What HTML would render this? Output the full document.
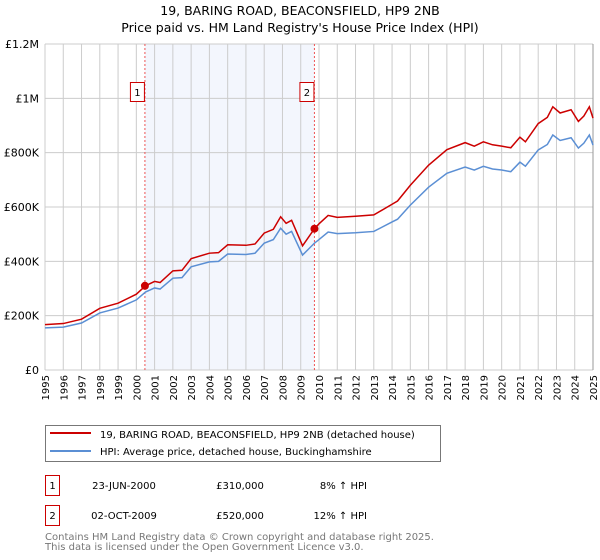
<!DOCTYPE html>
<html><head><meta charset="utf-8"><style>
body{margin:0;background:#fff;}
svg{display:block;font-family:"DejaVu Sans","Liberation Sans",sans-serif;}
</style></head><body>
<svg id="chart" width="600" height="560" xmlns="http://www.w3.org/2000/svg">
<text x="300" y="15" text-anchor="middle" font-size="12.5">19, BARING ROAD, BEACONSFIELD, HP9 2NB</text>
<text x="300" y="32" text-anchor="middle" font-size="12.5">Price paid vs. HM Land Registry's House Price Index (HPI)</text>
<g id="plot"></g>
<g>
<rect x="45.5" y="425.5" width="395" height="36" fill="#fff" stroke="#777"/>
<line x1="50" y1="433" x2="91" y2="433" stroke="#cc0000" stroke-width="2"/>
<text x="100" y="438" font-size="10">19, BARING ROAD, BEACONSFIELD, HP9 2NB (detached house)</text>
<line x1="50" y1="451" x2="91" y2="451" stroke="#5b8fd4" stroke-width="2"/>
<text x="100" y="455" font-size="10">HPI: Average price, detached house, Buckinghamshire</text>
</g>
<g font-size="10">
<rect x="45.5" y="475.5" width="14" height="20" fill="#fff" stroke="#cc0000"/>
<text x="52.5" y="489" text-anchor="middle">1</text>
<text x="124" y="489" text-anchor="middle">23-JUN-2000</text>
<text x="240" y="489" text-anchor="middle">£310,000</text>
<text x="367" y="489" text-anchor="end">8% ↑ HPI</text>
<rect x="45.5" y="505.5" width="14" height="20" fill="#fff" stroke="#cc0000"/>
<text x="52.5" y="519" text-anchor="middle">2</text>
<text x="124" y="519" text-anchor="middle">02-OCT-2009</text>
<text x="240" y="519" text-anchor="middle">£520,000</text>
<text x="367" y="519" text-anchor="end">12% ↑ HPI</text>
</g>
<text x="45" y="540" font-size="10" fill="#777">Contains HM Land Registry data © Crown copyright and database right 2025.</text>
<text x="45" y="550" font-size="10" fill="#777">This data is licensed under the Open Government Licence v3.0.</text>
</svg>
<script>
const years=[1995,1996,1997,1998,1999,2000,2000.5,2001,2001.3,2002,2002.5,2003,2004,2004.5,2005,2006,2006.5,2007,2007.5,2007.9,2008.2,2008.5,2009.1,2009.75,2010,2010.5,2011,2012,2013,2014,2014.3,2015,2016,2017,2018,2018.5,2019,2019.5,2020,2020.5,2021,2021.3,2022,2022.5,2022.8,2023.2,2023.8,2024.2,2024.5,2024.8,2025];
const hpiValues=[155,158,173,210,228,258,287,302,298,338,340,380,398,400,427,425,430,467,480,522,500,510,423,467,480,508,502,505,510,545,555,607,673,724,747,736,750,740,736,730,765,750,810,830,865,845,855,817,835,865,828];
const priceValues=[167,171,187,227,246,279,310,326,322,365,367,410,430,432,461,459,464,504,518,564,540,551,457,520,538,569,562,566,571,610,622,680,754,811,837,824,840,829,824,818,857,840,907,930,969,946,958,915,935,969,927];
const yTicks=[0,200,400,600,800,1000,1200];
const yTickLabels=["£0","£200K","£400K","£600K","£800K","£1M","£1.2M"];
const saleYears=[2000.47,2009.75];
const salePrices=[310,520];
const saleLabels=["1","2"];
const NS="http://www.w3.org/2000/svg";
const X0=45,X1=593,Y0=370,Y1=44;
const x=v=>X0+(v-1995)/30*(X1-X0);
const y=v=>Y0-v/1200*(Y0-Y1);
const g=document.getElementById('plot');
function mk(t,a,p){const e=document.createElementNS(NS,t);for(const k in a)e.setAttribute(k,a[k]);(p||g).appendChild(e);return e;}
const shade=mk('rect',{x:x(saleYears[0]),y:Y1,width:x(saleYears[1])-x(saleYears[0]),height:Y0-Y1,fill:'#f3f6fd'});


for(let yr=1995;yr<=2025;yr++){
  const l=mk('line',{x1:x(yr),x2:x(yr),y1:Y1,y2:Y0,stroke:'#ccc','stroke-width':1});
  
  
  const t=mk('text',{x:0,y:0,'font-size':10,'text-anchor':'end',transform:`translate(${x(yr)+4},375) rotate(-90)`});
  
  
  t.textContent=yr;
}
yTicks.forEach((v,i)=>{
  const l=mk('line',{x1:X0,x2:X1,y1:y(v),y2:y(v),stroke:'#ccc','stroke-width':1});
  
  
  const t=mk('text',{x:39,y:y(v)+4,'font-size':11,'text-anchor':'end'});
  
  
  t.textContent=yTickLabels[i];
});
const edge=mk('line',{x1:X1,x2:X1,y1:Y1,y2:Y0,stroke:'#999','stroke-width':1});


saleYears.forEach((s,i)=>{
  const l=mk('line',{x1:x(s),x2:x(s),y1:Y1,y2:Y0,stroke:'#e55','stroke-width':1,'stroke-dasharray':'2,2'});
  
  
  const b=mk('rect',{x:x(s)-14.5,y:82.5,width:14,height:19,fill:'#fff',stroke:'#cc0000'});
  
  
  const t=mk('text',{x:x(s)-7.5,y:96,'font-size':10,'text-anchor':'middle'});
  
  
  t.textContent=saleLabels[i];
});
function line(vals,col,name){
  const p=mk('polyline',{points:vals.map((v,i)=>x(years[i])+','+y(v)).join(' '),fill:'none',stroke:col,'stroke-width':1.5});
  
  
}
line(hpiValues,'#5b8fd4','hpi-line');
line(priceValues,'#cc0000','price-line');
saleYears.forEach((s,i)=>{
  const c=mk('circle',{cx:x(s),cy:y(salePrices[i]),r:4,fill:'#cc0000'});
  
  
});
</script>
</body></html>
